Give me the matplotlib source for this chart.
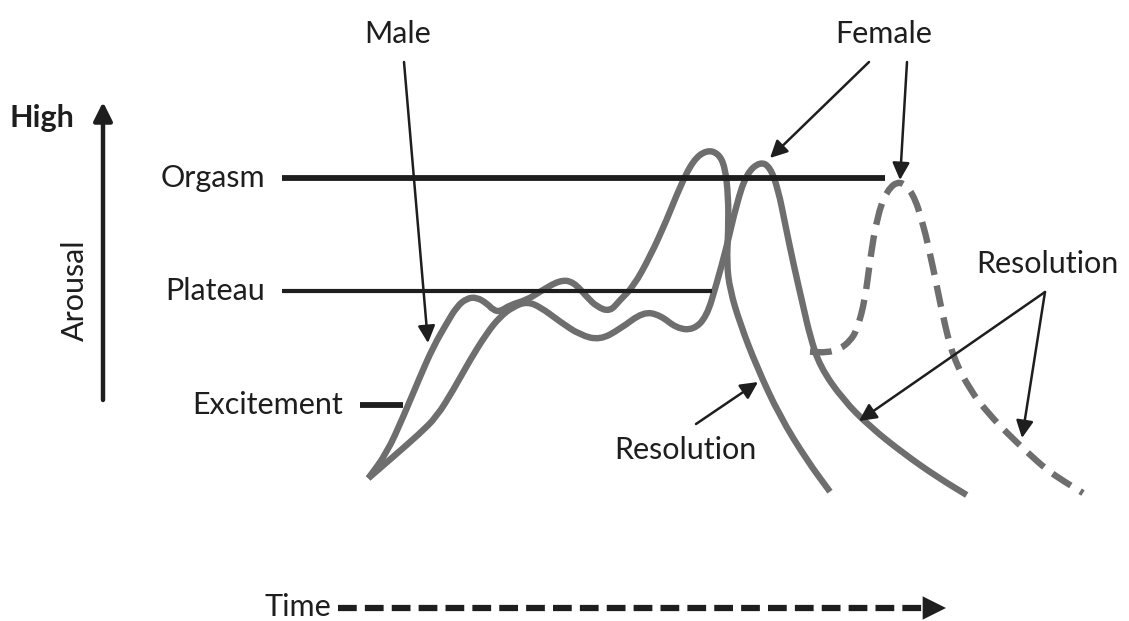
import matplotlib
matplotlib.use("Agg")
import matplotlib.pyplot as plt
from matplotlib.path import Path
from matplotlib.patches import PathPatch

# 남/여 반응 곡선 (픽셀 좌표로 읽은 값, y는 아래로 증가)
male_x = [368.3, 386.7, 403.3, 420, 433.3, 446.7, 456.7, 466.7, 476.7, 486.7, 493.3, 500,
          510, 526.7, 540, 560, 573.3, 586.7, 596.7, 610, 620, 633.3, 650, 666.7, 680,
          693.3, 706.7, 718.3, 725, 728.3, 728.3, 726.7, 730, 740, 756.7, 780, 806.7, 830]
male_y = [478.3, 453.3, 416.7, 376.7, 346.7, 323.3, 306.7, 298.3, 297.3, 303.3, 310, 311.7,
          305, 300, 291.7, 280, 281.7, 296.7, 306.7, 311.7, 300, 286.7, 256.7, 220, 186.7,
          160, 150, 153.3, 166.7, 196.7, 230, 263.3, 290, 323.3, 366.7, 416.7, 460, 491.7]

female_x = [368.3, 393.3, 420, 436.7, 453.3, 470, 486.7, 500, 513.3, 526.7, 540, 560, 580,
            600, 620, 643.3, 660, 676.7, 693.3, 706.7, 716.7, 726.7, 736.7, 746.7, 760,
            770, 778.3, 785, 793.3, 803.3, 810, 820, 843.3, 870, 903.3, 936.7, 966.7]
female_y = [478.3, 456.7, 433.3, 416.7, 390, 360, 333.3, 316.7, 306.7, 301.7, 306.7, 321.7,
            335, 340, 329, 311.7, 315, 328.3, 330, 316.7, 283.3, 246.7, 203.3, 173.3, 161.7,
            166.7, 190, 223.3, 263.3, 306.7, 336, 366.7, 400, 426.7, 453.3, 476.7, 495]

# 두 번째 오르가즘 (점선)
female2_x = [810, 826.7, 840, 850, 857, 865, 870, 877, 887, 900, 913, 923, 933, 943, 953,
             970, 988, 1007, 1027, 1047, 1065, 1083]
female2_y = [351.7, 352.7, 349, 341, 330, 300, 260, 217, 190, 180, 193, 223, 267, 317, 357,
             390, 413, 433, 452, 470, 482, 493]

# 단계 기준선
stage_names = ["Orgasm", "Plateau", "Excitement"]
stage_y = [178, 291, 405]
stage_x0 = [282, 282, 360]
stage_x1 = [885, 712, 403]
stage_lw = [4.2, 3.0, 4.2]

GRAY = "#6e6e6e"
BLACK = "#1e1e1e"
FONT = "Lato"
FS = 22


def smooth_path(xs, ys):
    # 읽은 점들을 2차 베지어로 이어 부드러운 선으로 그림
    pts = list(zip(xs, ys))
    verts = [pts[0]]
    codes = [Path.MOVETO]
    mid = lambda a, b: ((a[0] + b[0]) / 2, (a[1] + b[1]) / 2)
    verts.append(mid(pts[0], pts[1]))
    codes.append(Path.LINETO)
    for i in range(1, len(pts) - 1):
        verts += [pts[i], mid(pts[i], pts[i + 1])]
        codes += [Path.CURVE3, Path.CURVE3]
    verts.append(pts[-1])
    codes.append(Path.LINETO)
    return Path(verts, codes)


fig = plt.figure(figsize=(11.29, 6.21), dpi=100)
ax = fig.add_axes([0, 0, 1, 1])
ax.set_xlim(0, 1129)
ax.set_ylim(621, 0)
ax.axis("off")

# 곡선
ax.add_patch(PathPatch(smooth_path(male_x, male_y), fill=False, ec=GRAY, lw=4.6,
                       joinstyle="round", capstyle="butt"))
ax.add_patch(PathPatch(smooth_path(female_x, female_y), fill=False, ec=GRAY, lw=4.6,
                       joinstyle="round", capstyle="butt"))
ax.add_patch(PathPatch(smooth_path(female2_x, female2_y), fill=False, ec=GRAY, lw=4.6,
                       linestyle=(0, (3.4, 1.7)), capstyle="butt"))

# 단계선 + 라벨
for name, y, x0, x1, lw in zip(stage_names, stage_y, stage_x0, stage_x1, stage_lw):
    ax.plot([x0, x1], [y, y], color=BLACK, lw=lw, solid_capstyle="butt")
    ax.text(x0 - 17, y, name, ha="right", va="center", fontsize=FS, family=FONT, color=BLACK)

# 세로축 화살표
ax.annotate("", xy=(103, 102), xytext=(103, 400),
            arrowprops=dict(arrowstyle="-|>", color=BLACK, lw=3.2, mutation_scale=28,
                            shrinkA=0, shrinkB=0))
ax.text(10, 118, "High", ha="left", va="center", fontsize=FS, fontweight="bold",
        family=FONT, color=BLACK)
ax.text(75, 290, "Arousal", ha="center", va="center", rotation=90, fontsize=FS,
        family=FONT, color=BLACK)

# 시간축 점선 화살표
ax.plot([338, 924], [608, 608], color=BLACK, lw=4.5, dashes=(3.0, 1.3))
ax.annotate("", xy=(946, 608), xytext=(920, 608),
            arrowprops=dict(arrowstyle="-|>", color=BLACK, lw=0, mutation_scale=42,
                            shrinkA=0, shrinkB=0))
ax.text(298, 607, "Time", ha="center", va="center", fontsize=FS, family=FONT, color=BLACK)

# 주석 화살표
arrow_kw = dict(arrowstyle="-|>", color=BLACK, lw=1.8, mutation_scale=26, shrinkA=0, shrinkB=0)

ax.text(398, 34, "Male", ha="center", va="center", fontsize=FS, family=FONT, color=BLACK)
ax.annotate("", xy=(428, 343), xytext=(404, 62), arrowprops=arrow_kw)

ax.text(884, 34, "Female", ha="center", va="center", fontsize=FS, family=FONT, color=BLACK)
ax.annotate("", xy=(770, 158), xytext=(869, 62), arrowprops=arrow_kw)
ax.annotate("", xy=(900, 180), xytext=(907, 62), arrowprops=arrow_kw)

ax.text(685, 450, "Resolution", ha="center", va="center", fontsize=FS, family=FONT, color=BLACK)
ax.annotate("", xy=(758, 382), xytext=(696, 424), arrowprops=arrow_kw)

ax.text(1047, 264, "Resolution", ha="center", va="center", fontsize=FS, family=FONT, color=BLACK)
ax.annotate("", xy=(859, 421), xytext=(1045, 292), arrowprops=arrow_kw)
ax.annotate("", xy=(1022, 438), xytext=(1045, 292), arrowprops=arrow_kw)

fig.savefig("out.png", dpi=100)
